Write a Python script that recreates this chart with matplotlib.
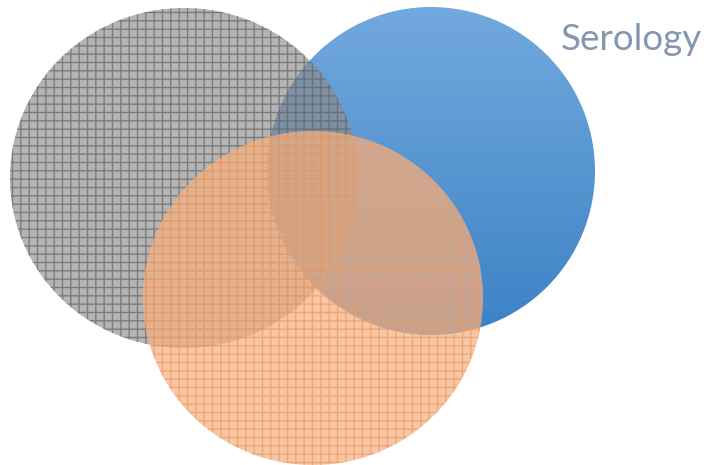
import numpy as np
import matplotlib
matplotlib.use("Agg")
from matplotlib import pyplot as plt
from matplotlib.patches import Ellipse
from matplotlib.colors import LinearSegmentedColormap

# circles of the venn diagram (pixel space of the original slide)
names = ["gray", "blue", "orange"]
centers = [(184, 178), (431, 171), (313, 298)]
widths = [348, 328, 340]
heights = [340, 328, 334]
title = "Serology"

plt.rcParams["hatch.linewidth"] = 1.0

fig = plt.figure(figsize=(7.13, 4.65), dpi=100)
ax = fig.add_axes([0, 0, 1, 1])
ax.set_xlim(0, 713)
ax.set_ylim(465, 0)
ax.axis("off")

# blue circle with vertical gradient
cx, cy = centers[1]
blue = Ellipse((cx, cy), widths[1], heights[1], facecolor="none", edgecolor="none")
ax.add_patch(blue)
cmap = LinearSegmentedColormap.from_list("bl", ["#72a9de", "#3c82c5"])
grad = np.linspace(0, 1, 256).reshape(-1, 1)
im = ax.imshow(grad, cmap=cmap, aspect="auto",
               extent=(cx - widths[1] / 2, cx + widths[1] / 2,
                       cy + heights[1] / 2, cy - heights[1] / 2),
               origin="upper", zorder=1)
im.set_clip_path(blue)

# gray hatched circle
gray = Ellipse(centers[0], widths[0], heights[0], facecolor="#8c8c8c",
               edgecolor="#606060", hatch="++", linewidth=0, alpha=0.65, zorder=2)
ax.add_patch(gray)

# orange hatched circle
orange = Ellipse(centers[2], widths[2], heights[2], facecolor="#f4b183",
                 edgecolor="#ee9a60", hatch="++", linewidth=0, alpha=0.72, zorder=3)
ax.add_patch(orange)

ax.text(561, 50, title, fontsize=26.5, family="Lato", color="#8497b0",
        ha="left", va="baseline")

ax.set_xlim(0, 713)
ax.set_ylim(465, 0)
fig.savefig("out.png", dpi=100)
